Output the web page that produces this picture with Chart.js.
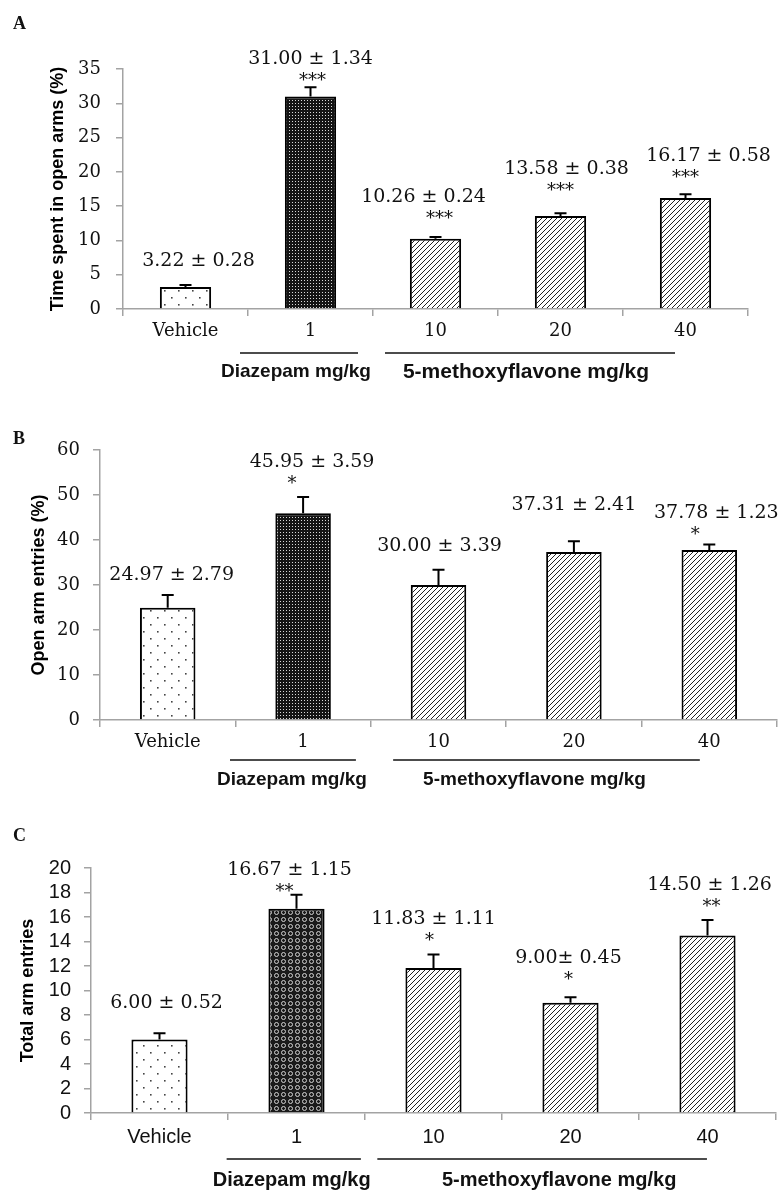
<!DOCTYPE html>
<html>
<head>
<meta charset="utf-8">
<script src="https://cdn.jsdelivr.net/npm/chart.js@4.4.0/dist/chart.umd.min.js"></script>
<style>
body{margin:0;background:#fff;width:783px;height:1191px;position:relative;overflow:hidden}
canvas{position:absolute;left:0}
.tag{position:absolute;left:13px;font:bold 18px "Liberation Serif",serif;color:#111}
</style>
</head>
<body>
<canvas id="chart-a" width="783" height="390" style="top:0"></canvas>
<canvas id="chart-b" width="783" height="400" style="top:390px"></canvas>
<canvas id="chart-c" width="783" height="401" style="top:790px"></canvas>
<div class="tag" style="top:13px">A</div>
<div class="tag" style="top:428px">B</div>
<div class="tag" style="top:825px">C</div>
<script>
// doses on the x axis
var doseLabels = ['Vehicle', '1', '10', '20', '40'];
var groupNames = ['Diazepam mg/kg', '5-methoxyflavone mg/kg'];

// A - time spent in open arms (%)
var timeOpen = [3.22, 31.00, 10.26, 13.58, 16.17];
var timeOpenSem = [0.28, 1.34, 0.24, 0.38, 0.58];
var timeOpenSig = ['', '***', '***', '***', '***'];
var timeOpenText = ['3.22 \u00b1 0.28', '31.00 \u00b1 1.34', '10.26 \u00b1 0.24', '13.58 \u00b1 0.38', '16.17 \u00b1 0.58'];

// B - open arm entries (%)
var openEntries = [24.97, 45.95, 30.00, 37.31, 37.78];
var openEntriesSem = [2.79, 3.59, 3.39, 2.41, 1.23];
var openEntriesSig = ['', '*', '', '', '*'];
var openEntriesText = ['24.97 \u00b1 2.79', '45.95 \u00b1 3.59', '30.00 \u00b1 3.39', '37.31 \u00b1 2.41', '37.78 \u00b1 1.23'];

// C - total arm entries
var totalEntries = [6.00, 16.67, 11.83, 9.00, 14.50];
var totalEntriesSem = [0.52, 1.15, 1.11, 0.45, 1.26];
var totalEntriesSig = ['', '**', '*', '*', '**'];
var totalEntriesText = ['6.00 \u00b1 0.52', '16.67 \u00b1 1.15', '11.83 \u00b1 1.11', '9.00\u00b1 0.45', '14.50 \u00b1 1.26'];

var axisGray = '#a3a3a3';

function makePattern(kind){
    var c = document.createElement('canvas');
    var x = c.getContext('2d');
    if(kind == 'dots'){
        c.width = 14; c.height = 14;
        x.fillStyle = '#fff'; x.fillRect(0, 0, 14, 14);
        x.fillStyle = '#444';
        x.fillRect(3, 3, 1.6, 1.6);
        x.fillRect(10, 10, 1.6, 1.6);
    } else if(kind == 'dense'){
        c.width = 3; c.height = 3;
        x.fillStyle = '#141414'; x.fillRect(0, 0, 3, 3);
        x.fillStyle = '#d8d8d8'; x.fillRect(1, 1, 1, 1);
    } else if(kind == 'rings'){
        c.width = 7; c.height = 7;
        x.fillStyle = '#1a1a1a'; x.fillRect(0, 0, 7, 7);
        x.strokeStyle = '#d0d0d0'; x.lineWidth = 1;
        x.beginPath(); x.arc(3.5, 3.5, 2, 0, Math.PI * 2); x.stroke();
    } else {
        c.width = 5; c.height = 5;
        x.fillStyle = '#fff'; x.fillRect(0, 0, 5, 5);
        x.strokeStyle = '#222'; x.lineWidth = 1;
        x.beginPath();
        x.moveTo(-1, 6); x.lineTo(6, -1);
        x.moveTo(-1, 1); x.lineTo(1, -1);
        x.moveTo(4, 6); x.lineTo(6, 4);
        x.stroke();
    }
    return x.createPattern(c, 'repeat');
}

// error bars, value labels, significance stars and the dose group lines
var annotate = {
    id: 'annotate',
    afterDatasetsDraw: function(chart, args, o){
        var ctx = chart.ctx;
        var meta = chart.getDatasetMeta(0);
        var ys = chart.scales.y;
        ctx.save();
        ctx.strokeStyle = '#000';
        ctx.lineWidth = 2;
        meta.data.forEach(function(bar, i){
            var top = ys.getPixelForValue(o.means[i] + o.sems[i]);
            ctx.beginPath();
            ctx.moveTo(bar.x, bar.y);
            ctx.lineTo(bar.x, top);
            ctx.moveTo(bar.x - 6, top);
            ctx.lineTo(bar.x + 6, top);
            ctx.stroke();
        });
        ctx.restore();
    },
    afterDraw: function(chart, args, o){
        var ctx = chart.ctx;
        var meta = chart.getDatasetMeta(0);
        var xs = chart.scales.x, ys = chart.scales.y;
        ctx.save();
        ctx.fillStyle = '#111';
        ctx.textAlign = 'center';
        ctx.textBaseline = 'alphabetic';
        meta.data.forEach(function(bar, i){
            var top = ys.getPixelForValue(o.means[i] + o.sems[i]);
            var sh = o.shift[i];
            var labelY;
            if(o.sig[i]){
                var starY = top - 18 + sh[2];
                ctx.font = '18px "DejaVu Serif"';
                ctx.fillText(o.sig[i], bar.x + sh[1], starY + 10);
                labelY = starY - 19;
            } else {
                labelY = top - 26 + sh[2];
            }
            ctx.font = '19px "DejaVu Serif"';
            ctx.fillText(o.text[i], bar.x + sh[0], labelY + 7);
        });

        // group underlines and names
        var base = chart.chartArea.bottom;
        ctx.strokeStyle = '#111';
        ctx.lineWidth = 1.5;
        o.groups.forEach(function(g, k){
            var x0 = xs.getPixelForValue(g[0]);
            var x1 = xs.getPixelForValue(g[1]);
            ctx.beginPath();
            ctx.moveTo(x0, base + o.lineGap);
            ctx.lineTo(x1, base + o.lineGap);
            ctx.stroke();
            ctx.font = 'bold ' + o.groupFont[k] + 'px "Liberation Sans"';
            ctx.textBaseline = 'middle';
            ctx.fillText(groupNames[k], (x0 + x1) / 2 + g[2], base + o.nameGap);
        });
        ctx.restore();
    }
};

function makeChart(id, cfg){
    var ctx = document.getElementById(id).getContext('2d');
    return new Chart(ctx, {
        type: 'bar',
        data: {
            labels: doseLabels,
            datasets: [{
                data: cfg.means,
                backgroundColor: cfg.fills,
                borderColor: '#000',
                borderWidth: 2,
                barPercentage: 0.41,
                categoryPercentage: 1
            }]
        },
        options: {
            responsive: false,
            animation: false,
            events: [],
            layout: { padding: cfg.padding },
            plugins: {
                legend: { display: false },
                tooltip: { enabled: false },
                annotate: {
                    means: cfg.means,
                    sems: cfg.sems,
                    sig: cfg.sig,
                    text: cfg.text,
                    shift: cfg.shift,
                    groups: cfg.groups,
                    groupFont: cfg.groupFont,
                    lineGap: cfg.lineGap,
                    nameGap: cfg.nameGap
                }
            },
            scales: {
                x: {
                    grid: { drawOnChartArea: false, tickLength: 7, color: axisGray, lineWidth: 1.5 },
                    border: { color: axisGray, width: 1.5 },
                    ticks: { color: '#111', font: cfg.tickFont, padding: 5, maxRotation: 0, autoSkip: false },
                    afterFit: function(s){ s.height = 40; }
                },
                y: {
                    min: 0,
                    max: cfg.yMax,
                    grid: { drawOnChartArea: false, tickLength: 7, color: axisGray, lineWidth: 1.5 },
                    border: { color: axisGray, width: 1.5 },
                    ticks: { stepSize: cfg.yStep, autoSkip: false, color: '#111', font: cfg.tickFont, padding: cfg.yPad },
                    title: {
                        display: true,
                        text: cfg.yTitle,
                        color: '#000',
                        padding: 0,
                        font: { family: 'Liberation Sans', weight: 'bold', size: 18 }
                    },
                    afterFit: function(s){ s.width = cfg.yWidth; }
                }
            }
        },
        plugins: [annotate]
    });
}

var dots = makePattern('dots');
var dense = makePattern('dense');
var rings = makePattern('rings');
var hatch = makePattern('hatch');

var chartA = makeChart('chart-a', {
    means: timeOpen, sems: timeOpenSem, sig: timeOpenSig, text: timeOpenText,
    fills: [dots, dense, hatch, hatch, hatch],
    yMax: 35, yStep: 5, yPad: 15, yWidth: 76,
    yTitle: 'Time spent in open arms (%)',
    tickFont: { family: 'DejaVu Serif', size: 18 },
    padding: { left: 47, right: 35, top: 69, bottom: 41 },
    shift: [[13,0,0],[0,2,7],[-12,4,-5],[6,0,-9],[23,0,-3]],
    groups: [[0.436, 1.38, -3], [1.596, 3.916, -4]],
    groupFont: [19, 21],
    lineGap: 44, nameGap: 63
});

var chartB = makeChart('chart-b', {
    means: openEntries, sems: openEntriesSem, sig: openEntriesSig, text: openEntriesText,
    fills: [dots, dense, hatch, hatch, hatch],
    yMax: 60, yStep: 10, yPad: 13, yWidth: 72,
    yTitle: 'Open arm entries (%)',
    tickFont: { family: 'DejaVu Serif', size: 18 },
    padding: { left: 28, right: 6, top: 60, bottom: 30 },
    shift: [[4,0,4],[9,-11,0],[1,0,0],[0,0,-12],[7,-14,4]],
    groups: [[0.46, 1.39, -1], [1.665, 3.93, -12]],
    groupFont: [19, 19],
    lineGap: 40, nameGap: 60
});

var chartC = makeChart('chart-c', {
    means: totalEntries, sems: totalEntriesSem, sig: totalEntriesSig, text: totalEntriesText,
    fills: [dots, rings, hatch, hatch, hatch],
    yMax: 20, yStep: 2, yPad: 13, yWidth: 74,
    yTitle: 'Total arm entries',
    tickFont: { family: 'Liberation Sans', size: 20 },
    padding: { left: 17, right: 7, top: 78, bottom: 38 },
    shift: [[7,0,-6],[-7,-12,10],[0,-4,0],[-2,-2,-4],[2,4,0]],
    groups: [[0.49, 1.47, -2], [1.59, 3.996, 17]],
    groupFont: [20, 20],
    lineGap: 46, nameGap: 67
});
</script>
</body>
</html>
